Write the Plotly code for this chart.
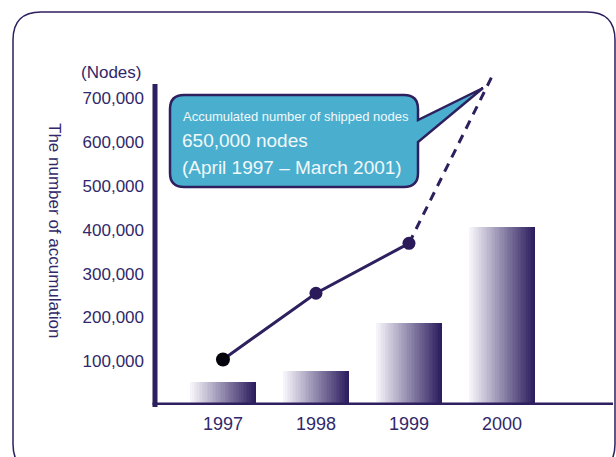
import plotly.graph_objects as go

# ---------------- data ----------------
years = ["1997", "1998", "1999", "2000"]
bar_values = [52500, 77600, 187000, 407000]          # yearly shipments (bars)
line_years = ["1997", "1998", "1999"]
line_values = [104000, 255000, 369000]                # accumulated nodes
projection_x = [2, 2.9]                                # dashed projection (category index)
projection_y = [369000, 753000]
y_tick_values = [100000, 200000, 300000, 400000, 500000, 600000, 700000]
y_tick_labels = ["100,000", "200,000", "300,000", "400,000", "500,000", "600,000", "700,000"]

NAVY = "#2E1F5E"
TEXT = "#30286A"
W, H = 616, 457
ML, MR, MT, MB = 155, 3, 72, 52
PW, PH = W - ML - MR, H - MT - MB


def px(x):
    return (x - ML) / PW


def py(y):
    return (H - MB - y) / PH


def pt(x, y):
    return f"{px(x):.5f},{py(y):.5f}"


fig = go.Figure()

# gradient bars built from thin slices
x_idx = list(range(len(years)))
K = 40
bw = 0.70
light = (246, 244, 250)
dark = (45, 30, 95)
for k in range(K):
    t = k / (K - 1)
    c = tuple(int(round(light[i] + (dark[i] - light[i]) * t)) for i in range(3))
    fig.add_trace(go.Bar(
        x=x_idx, y=bar_values,
        width=bw / K * 1.35, offset=-bw / 2 + k * bw / K,
        marker=dict(color=f"rgb{c}", line=dict(width=0)),
        showlegend=False, hoverinfo="skip",
    ))

# accumulated line
line_idx = [years.index(y) for y in line_years]
fig.add_trace(go.Scatter(
    x=projection_x, y=projection_y, mode="lines",
    line=dict(color=NAVY, width=3, dash="9px,7px"),
    showlegend=False, hoverinfo="skip",
))
fig.add_trace(go.Scatter(
    x=line_idx, y=line_values, mode="lines+markers",
    line=dict(color=NAVY, width=3),
    marker=dict(size=[14, 13, 13], color=["#05040C", "#2A1A5A", "#2A1A5A"], opacity=1,
                line=dict(width=0)),
    opacity=1,
    showlegend=False, hoverinfo="skip",
))

shapes = []
# outer rounded frame
x0, y0, x1, y1, r = 13, 12, 615, 472, 28
frame = (f"M {pt(x0 + r, y0)} L {pt(x1 - r, y0)} Q {pt(x1, y0)} {pt(x1, y0 + r)} "
         f"L {pt(x1, y1 - r)} Q {pt(x1, y1)} {pt(x1 - r, y1)} L {pt(x0 + r, y1)} "
         f"Q {pt(x0, y1)} {pt(x0, y1 - r)} L {pt(x0, y0 + r)} Q {pt(x0, y0)} {pt(x0 + r, y0)} Z")
shapes.append(dict(type="path", xref="paper", yref="paper", path=frame,
                   line=dict(color=NAVY, width=1.5), layer="below"))

# axis lines
shapes.append(dict(type="line", xref="paper", yref="paper", x0=px(155), x1=px(155),
                   y0=py(84), y1=py(407), line=dict(color=NAVY, width=5)))
shapes.append(dict(type="line", xref="paper", yref="y", x0=px(152.5), x1=px(613),
                   y0=0, y1=0, line=dict(color=NAVY, width=5)))

# callout
bx0, by0, bx1, by1, br = 170, 95, 418, 187, 14
callout = (f"M {pt(bx0 + br, by0)} L {pt(bx1 - br, by0)} Q {pt(bx1, by0)} {pt(bx1, by0 + br)} "
           f"L {pt(bx1, 120)} L {pt(483, 88)} L {pt(bx1, 142)} "
           f"L {pt(bx1, by1 - br)} Q {pt(bx1, by1)} {pt(bx1 - br, by1)} L {pt(bx0 + br, by1)} "
           f"Q {pt(bx0, by1)} {pt(bx0, by1 - br)} L {pt(bx0, by0 + br)} Q {pt(bx0, by0)} {pt(bx0 + br, by0)} Z")
shapes.append(dict(type="path", xref="paper", yref="paper", path=callout,
                   fillcolor="#4AAFCE", line=dict(color=NAVY, width=2.5), layer="above"))

BASE_FONT = "Liberation Sans, Arial, sans-serif"

annotations = [
    dict(text="Accumulated number of shipped nodes", x=px(181), y=py(117), xref="paper", yref="paper",
         xanchor="left", yanchor="middle", showarrow=False,
         font=dict(family=BASE_FONT, size=13, color="#F2F8FB")),
    dict(text="650,000 nodes", x=px(180), y=py(140), xref="paper", yref="paper",
         xanchor="left", yanchor="middle", showarrow=False,
         font=dict(family=BASE_FONT, size=19, color="#F2F8FB")),
    dict(text="(April 1997 \u2013 March 2001)", x=px(180), y=py(167), xref="paper", yref="paper",
         xanchor="left", yanchor="middle", showarrow=False,
         font=dict(family=BASE_FONT, size=19, color="#F2F8FB")),
    dict(text="The number of accumulation", x=px(55), y=py(230), xref="paper", yref="paper",
         xanchor="center", yanchor="middle", showarrow=False, textangle=90,
         font=dict(family=BASE_FONT, size=17, color=TEXT)),
    dict(text="(Nodes)", x=px(111), y=py(72), xref="paper", yref="paper",
         xanchor="center", yanchor="middle", showarrow=False,
         font=dict(family=BASE_FONT, size=17, color=TEXT)),
]

fig.update_layout(
    width=W, height=H,
    margin=dict(l=ML, r=MR, t=MT, b=MB, pad=0),
    paper_bgcolor="white", plot_bgcolor="white",
    barmode="overlay", bargap=0,
    showlegend=False, hovermode=False,
    shapes=shapes, annotations=annotations,
    font=dict(family=BASE_FONT, color=TEXT),
    xaxis=dict(range=[-0.731, 4.194], tickvals=x_idx, ticktext=years, showgrid=False,
               zeroline=False, showline=False, ticks="", ticklabelstandoff=6,
               tickfont=dict(size=18, color=TEXT), fixedrange=True),
    yaxis=dict(range=[0, 760000], tickvals=y_tick_values, ticktext=y_tick_labels, showgrid=False,
               zeroline=False, showline=False, ticks="", ticklabelstandoff=10,
               tickfont=dict(size=17, color=TEXT), fixedrange=True),
)

fig.write_html("out.html", config={"displayModeBar": False},
               post_script="document.body.style.margin='0';document.body.style.overflow='hidden';")
